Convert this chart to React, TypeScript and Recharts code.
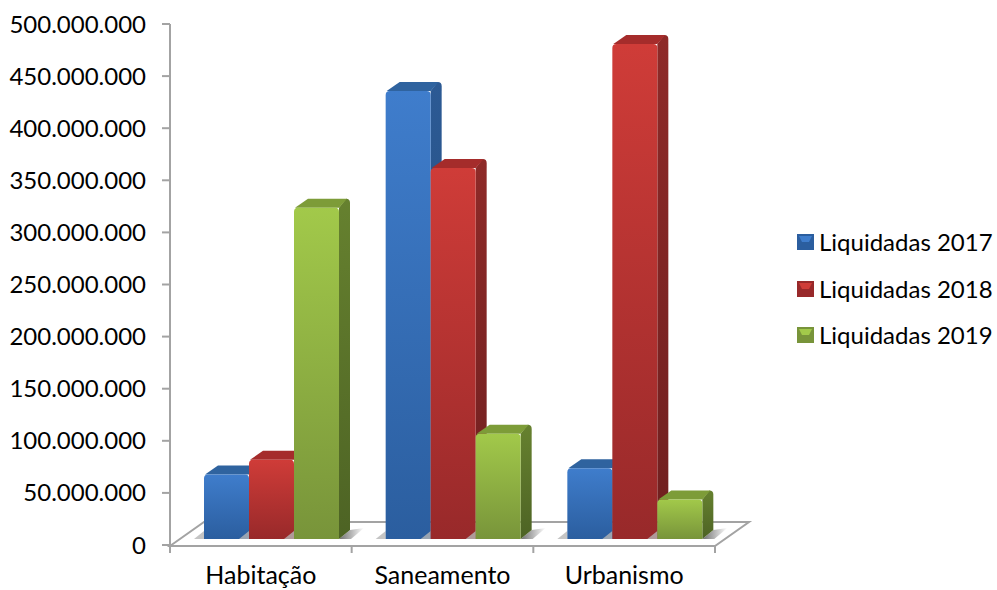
import React from "react";
import { BarChart, Bar, XAxis, YAxis, Legend, Customized } from "recharts";

// Settled expenditure per sector and year
const categories = ["Habitação", "Saneamento", "Urbanismo"];
const liquidadas2017 = [62000000, 430000000, 68000000];
const liquidadas2018 = [76000000, 356000000, 475000000];
const liquidadas2019 = [318000000, 101000000, 38000000];
const yTicks = [0, 50000000, 100000000, 150000000, 200000000, 250000000, 300000000, 350000000, 400000000, 450000000, 500000000];

const rows = categories.map((name, i) => ({
  name,
  l2017: liquidadas2017[i],
  l2018: liquidadas2018[i],
  l2019: liquidadas2019[i],
}));

const FONT = "Lato, Carlito, sans-serif";
const AXIS = "#a3a3a3";
const W = 997;
const H = 590;
const M = { top: 24, right: 282, bottom: 0, left: 0 };
const Y_AXIS_W = 170;
const X_AXIS_H = 45;

// Depth of the extruded columns and of the floor
const DX = 11;
const DY = 9;
const LIFT = 6;
const SHIFT = 11;

const palette = [
  { id: "b", key: "l2017", label: "Liquidadas 2017", top: "#3f7dcc", bottom: "#2b5e9f", side: "#2c5a94", sideLow: "#234a7c", cap: "#2f639f" },
  { id: "r", key: "l2018", label: "Liquidadas 2018", top: "#cf3c38", bottom: "#98292a", side: "#8e2a28", sideLow: "#6f1f1f", cap: "#a52c2b" },
  { id: "g", key: "l2019", label: "Liquidadas 2019", top: "#a2c94a", bottom: "#78943a", side: "#66812f", sideLow: "#4d6324", cap: "#7d9c38" },
];

const fmt = (v: number) => v.toString().replace(/\B(?=(\d{3})+(?!\d))/g, ".");

function Column(props: any) {
  const { x, y, width, height, colour } = props;
  const l = x + SHIFT;
  const r = l + width;
  const t = y - LIFT;
  const b = t + height;
  const rad = 4;
  return (
    <g>
      <path d={`M${r},${b} L${r + DX},${b - DY} L${r + DX + 14},${b - DY - 2} L${r + 12},${b} Z`} fill="url(#floorShadow)" />
      <path d={`M${l - 10},${b} L${l},${b} L${l},${b - 8} Z`} fill="#b5b5b5" opacity={0.8} />
      <path d={`M${r},${t} L${r + DX - rad},${t - DY} Q${r + DX},${t - DY} ${r + DX},${t - DY + rad} L${r + DX},${b - DY} L${r},${b} Z`} fill={`url(#side-${colour.id})`} />
      <path d={`M${l + 1},${t} L${l + DX + 3},${t - DY} L${r + DX - 3},${t - DY} L${r},${t} Z`} fill={colour.cap} />
      <path d={`M${l},${b} L${l},${t + rad} Q${l},${t} ${l + rad},${t} L${r - rad},${t} Q${r},${t} ${r},${t + rad} L${r},${b} Z`} fill={`url(#front-${colour.id})`} />
    </g>
  );
}

function Floor() {
  const x0 = Y_AXIS_W;
  const bandW = (W - M.right - x0) / categories.length;
  const x1 = x0 + bandW * categories.length;
  const y0 = H - X_AXIS_H + 1;
  const backDx = 34;
  const backDy = 24;
  const ticks = Array.from({ length: categories.length + 1 }, (_, i) => x0 + i * bandW);
  return (
    <g stroke={AXIS} strokeWidth={2} fill="none">
      <path d={`M${x0},${y0} L${x0 + backDx},${y0 - backDy} L${x1 + backDx},${y0 - backDy} L${x1},${y0} Z`} />
      {ticks.map((t) => (
        <line key={t} x1={t} x2={t} y1={y0} y2={y0 + 7} />
      ))}
    </g>
  );
}

function Key() {
  return (
    <div style={{ fontFamily: FONT, fontSize: 24, color: "#000", lineHeight: "46.5px" }}>
      {palette.map((p) => (
        <div key={p.id} style={{ display: "flex", alignItems: "center", height: 46.5, whiteSpace: "nowrap" }}>
          <svg width={18} height={18} style={{ marginRight: 4 }}>
            <rect width={17} height={16} y={1} fill={p.bottom} />
            <path d="M2,3 L15,3 L12,9 L5,9 Z" fill={p.top} />
          </svg>
          {p.label}
        </div>
      ))}
    </div>
  );
}

export default function App() {
  return (
    <div style={{ position: "absolute", left: 0, top: 0, width: W, height: H, background: "#fff" }}>
      <BarChart width={W} height={H} data={rows} margin={M} barSize={45} barGap={0}>
        <defs>
          {palette.map((p) => (
            <React.Fragment key={p.id}>
              <linearGradient id={`front-${p.id}`} x1="0" y1="0" x2="0" y2="1">
                <stop offset="0%" stopColor={p.top} />
                <stop offset="100%" stopColor={p.bottom} />
              </linearGradient>
              <linearGradient id={`side-${p.id}`} x1="0" y1="0" x2="0" y2="1">
                <stop offset="0%" stopColor={p.side} />
                <stop offset="100%" stopColor={p.sideLow} />
              </linearGradient>
            </React.Fragment>
          ))}
          <linearGradient id="floorShadow" x1="0" y1="0" x2="1" y2="0">
            <stop offset="0%" stopColor="#6f6f6f" />
            <stop offset="100%" stopColor="#ffffff" />
          </linearGradient>
        </defs>
        <Customized component={Floor} />
        <XAxis
          dataKey="name"
          height={X_AXIS_H}
          axisLine={false}
          tickLine={false}
          interval={0}
          tick={{ fontFamily: FONT, fontSize: 25, fill: "#000" }}
          tickMargin={15}
        />
        <YAxis
          width={Y_AXIS_W}
          domain={[0, 500000000]}
          ticks={yTicks}
          interval={0}
          tickFormatter={fmt}
          axisLine={{ stroke: AXIS, strokeWidth: 2 }}
          tickLine={{ stroke: AXIS, strokeWidth: 2 }}
          tickSize={8}
          tickMargin={16}
          tick={{ fontFamily: FONT, fontSize: 24, fill: "#000" }}
        />
        <Legend
          layout="vertical"
          align="center"
          verticalAlign="middle"
          content={<Key />}
          wrapperStyle={{ left: 797, top: 219, width: 200, height: 140 }}
        />
        {palette.map((p) => (
          <Bar key={p.id} dataKey={p.key} name={p.label} isAnimationActive={false} shape={(s: any) => <Column {...s} colour={p} />} />
        ))}
      </BarChart>
    </div>
  );
}
